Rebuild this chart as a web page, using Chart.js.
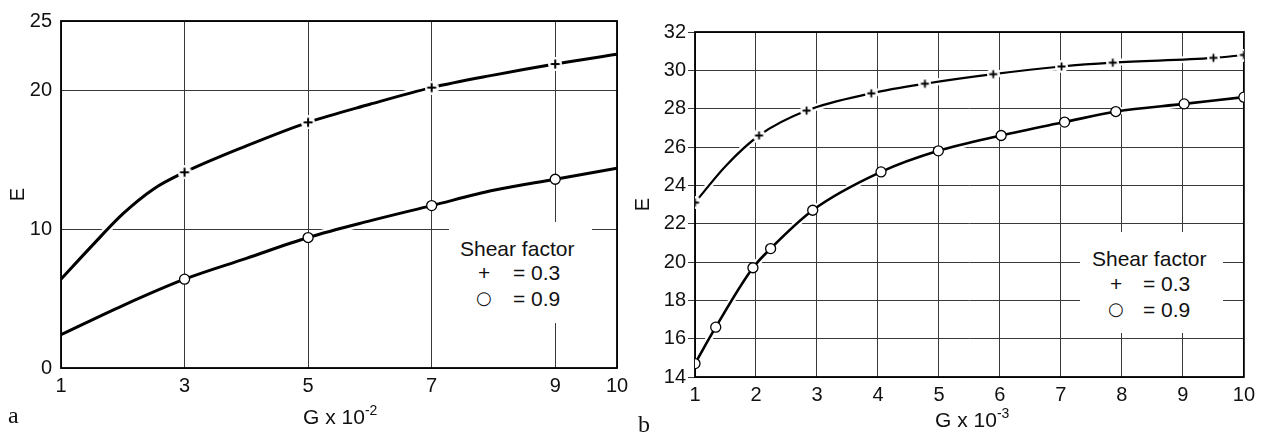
<!DOCTYPE html>
<html>
<head>
<meta charset="utf-8">
<script src="https://cdn.jsdelivr.net/npm/chart.js@4"></script>
<style>
  body { margin: 0; background: #fff; width: 1261px; height: 438px; position: relative; overflow: hidden;
         font-family: 'Liberation Sans', Arial, sans-serif; color: #111; }
  canvas { position: absolute; top: 0; }
  #chart-a { left: 0; }
  #chart-b { left: 620px; }
  .txt { position: absolute; white-space: nowrap; font-size: 21px; line-height: 21px; }
  .leg { position: absolute; white-space: nowrap; font-size: 21px; line-height: 21px; }
  .box { position: absolute; background: #fff; }
  .sup { position: relative; top: -9px; font-size: 14px; }
  .sym { font-family: 'DejaVu Sans', sans-serif; font-size: 18px; }
  .panel { position: absolute; font-family: 'Liberation Serif', 'Times New Roman', serif; font-size: 24px; line-height: 24px; }
</style>
</head>
<body>
<canvas id="chart-a" width="640" height="438"></canvas>
<canvas id="chart-b" width="641" height="438"></canvas>

<!-- legend a -->
<div class="box" style="left:449px; top:222px; width:143px; height:101px;"></div>
<div class="leg" style="left:460px; top:238px;">Shear factor</div>
<div class="leg" style="left:478px; top:262px;">+</div>
<div class="leg" style="left:513px; top:262px;">= 0.3</div>
<div class="leg sym" style="left:476px; top:287px;">○</div>
<div class="leg" style="left:513px; top:288px;">= 0.9</div>

<!-- legend b -->
<div class="box" style="left:1080px; top:232px; width:143px; height:101px;"></div>
<div class="leg" style="left:1092px; top:248px;">Shear factor</div>
<div class="leg" style="left:1110px; top:273px;">+</div>
<div class="leg" style="left:1143px; top:273px;">= 0.3</div>
<div class="leg sym" style="left:1108px; top:298px;">○</div>
<div class="leg" style="left:1143px; top:299px;">= 0.9</div>

<!-- axis titles and panel letters -->
<div class="txt" style="left:303px; top:406px;">G x 10<span class="sup">-2</span></div>
<div class="txt" style="left:935px; top:409px;">G x 10<span class="sup">-3</span></div>
<div class="panel" style="left:8px; top:403px;">a</div>
<div class="panel" style="left:638px; top:412px;">b</div>

<script>
// --- panel a: G x 10^-2 ---
const gA03 = [1, 1.5, 2, 2.5, 3, 4, 5, 6, 7, 8, 9, 10];
const eA03 = [6.4, 8.8, 11.1, 12.9, 14.1, 16.0, 17.7, 19.0, 20.2, 21.1, 21.9, 22.6];
const gA09 = [1, 2, 3, 4, 5, 6, 7, 8, 9, 10];
const eA09 = [2.4, 4.5, 6.4, 7.9, 9.4, 10.6, 11.7, 12.8, 13.6, 14.4];
const marksA = [3, 5, 7, 9];
const xTicksA = [1, 3, 5, 7, 9, 10];
const yTicksA = [0, 10, 20, 25];

// --- panel b: G x 10^-3 ---
const gB03 = [1, 1.5, 2.05, 2.83, 3.89, 4.77, 5.89, 7.01, 7.85, 9.5, 10];
const eB03 = [23.1, 25.0, 26.6, 27.9, 28.8, 29.3, 29.8, 30.2, 30.4, 30.65, 30.8];
const marksB03 = [1, 2.05, 2.83, 3.89, 4.77, 5.89, 7.01, 7.85, 9.5, 10];
const gB09 = [1, 1.34, 1.95, 2.24, 2.93, 4.05, 4.99, 6.02, 7.06, 7.9, 9.02, 10];
const eB09 = [14.7, 16.6, 19.7, 20.7, 22.7, 24.7, 25.8, 26.6, 27.3, 27.85, 28.25, 28.6];

const FONT = "'Liberation Sans', Arial, sans-serif";
const GRID = '#3a3a3a';

function toPoints(xs, ys) {
    return xs.map((x, i) => ({ x: x, y: ys[i] }));
}

// small plus with a white gap round it, like the drawing
function plusMarker(size, arm, width) {
    const c = document.createElement('canvas');
    c.width = c.height = size;
    const g = c.getContext('2d');
    g.fillStyle = '#fff';
    g.beginPath();
    g.arc(size / 2, size / 2, size / 2, 0, Math.PI * 2);
    g.fill();
    g.strokeStyle = '#000';
    g.lineWidth = width;
    g.beginPath();
    g.moveTo(size / 2 - arm, size / 2); g.lineTo(size / 2 + arm, size / 2);
    g.moveTo(size / 2, size / 2 - arm); g.lineTo(size / 2, size / 2 + arm);
    g.stroke();
    return c;
}

function markerRadius(marks, r) {
    return ctx => (marks.includes(ctx.raw.x) ? r : 0);
}

// frame is drawn after the grid, before the curves
const framePlugin = {
    id: 'frame',
    beforeDatasetsDraw(chart) {
        const { ctx, chartArea: a } = chart;
        ctx.save();
        ctx.strokeStyle = '#000';
        ctx.lineWidth = 1.8;
        ctx.strokeRect(a.left, a.top, a.right - a.left, a.bottom - a.top);
        ctx.restore();
    }
};

function halo(points, width) {
    return {
        data: points, borderColor: '#fff', borderWidth: width, pointRadius: 0,
        cubicInterpolationMode: 'monotone', clip: -2, order: 2
    };
}

function curve(points, width, style) {
    return Object.assign({
        data: points, borderColor: '#000', borderWidth: width,
        cubicInterpolationMode: 'monotone', order: 1
    }, style);
}

function buildChart(id, opts) {
    return new Chart(document.getElementById(id), {
        type: 'line',
        data: { datasets: opts.datasets },
        options: {
            responsive: false,
            animation: false,
            layout: { padding: opts.padding },
            plugins: { legend: { display: false }, tooltip: { enabled: false } },
            scales: {
                x: {
                    type: 'linear', min: 1, max: 10,
                    afterBuildTicks: s => { s.ticks = opts.xTicks.map(v => ({ value: v })); },
                    afterFit: s => { s.height = opts.xHeight; },
                    grid: { color: GRID, lineWidth: 1, drawTicks: false },
                    border: { display: false },
                    ticks: { padding: opts.xPad, color: '#111', font: { family: FONT, size: 20 } }
                },
                y: {
                    type: 'linear', min: opts.yMin, max: opts.yMax,
                    afterBuildTicks: s => { s.ticks = opts.yTicks.map(v => ({ value: v })); },
                    afterFit: s => { s.width = opts.yWidth; },
                    grid: { color: GRID, lineWidth: 1, drawTicks: opts.yTickLen > 0, tickLength: opts.yTickLen },
                    border: { display: false },
                    ticks: { padding: opts.yPad, color: '#111', font: { family: FONT, size: 20 } },
                    title: {
                        display: true, text: 'E', color: '#111',
                        font: { family: FONT, size: 20 }, padding: { top: opts.titlePad, bottom: 0 }
                    }
                }
            }
        },
        plugins: [framePlugin]
    });
}

const ptsA03 = toPoints(gA03, eA03);
const ptsA09 = toPoints(gA09, eA09);
const ptsB03 = toPoints(gB03, eB03);
const ptsB09 = toPoints(gB09, eB09);

const plusA = plusMarker(14, 4.5, 2);
const plusB = plusMarker(13, 4, 1.8);
const circleStyle = { pointStyle: 'circle', pointBackgroundColor: '#fff', pointBorderColor: '#000', pointBorderWidth: 1.3 };

buildChart('chart-a', {
    padding: { left: 0, right: 23, top: 19, bottom: 0 },
    xTicks: xTicksA, yTicks: yTicksA, yMin: 0, yMax: 25,
    xHeight: 70, yWidth: 61, xPad: 6, yPad: 9, yTickLen: 0, titlePad: 6,
    datasets: [
        curve(ptsA03, 3, { pointStyle: plusA, pointRadius: markerRadius(marksA, 5) }),
        curve(ptsA09, 3, Object.assign({ pointRadius: markerRadius(marksA, 5) }, circleStyle)),
        halo(ptsA03, 8),
        halo(ptsA09, 8)
    ]
});

const yTicksB = [];
for (let v = 14; v <= 32; v += 2) yTicksB.push(v);

buildChart('chart-b', {
    padding: { left: 0, right: 15, top: 32, bottom: 0 },
    xTicks: [1, 2, 3, 4, 5, 6, 7, 8, 9, 10], yTicks: yTicksB, yMin: 14, yMax: 32,
    xHeight: 61, yWidth: 75, xPad: 6, yPad: 2, yTickLen: 7, titlePad: 11,
    datasets: [
        curve(ptsB03, 2.2, { pointStyle: plusB, pointRadius: markerRadius(marksB03, 5) }),
        curve(ptsB09, 2.6, Object.assign({ pointRadius: 5 }, circleStyle)),
        halo(ptsB03, 7),
        halo(ptsB09, 7)
    ]
});
</script>
</body>
</html>
